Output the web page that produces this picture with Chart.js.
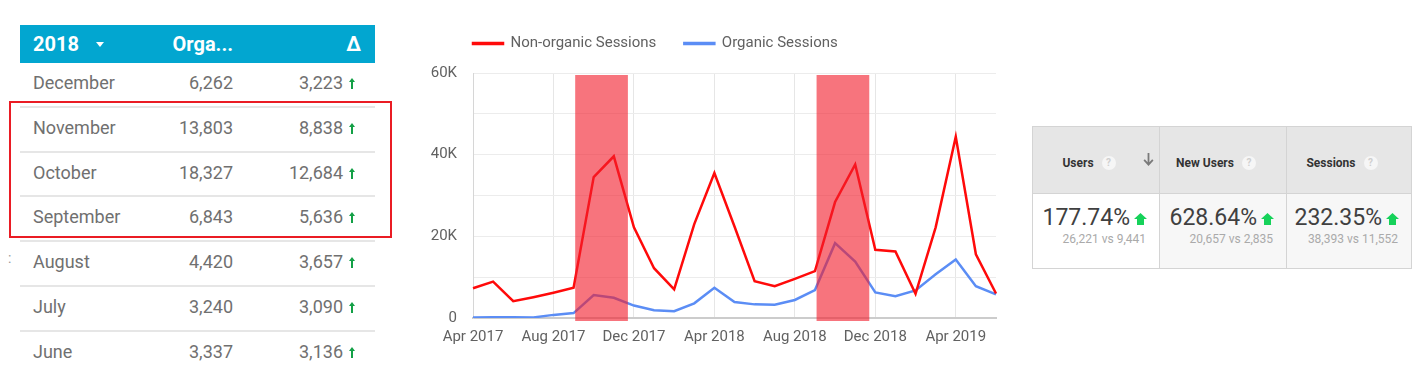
<!DOCTYPE html>
<html>
<head>
<meta charset="utf-8">
<script src="https://cdn.jsdelivr.net/npm/chart.js@4.4.1/dist/chart.umd.min.js"></script>
<style>
  html, body { margin: 0; padding: 0; background: #fff; }
  body { width: 1422px; height: 375px; position: relative; overflow: hidden; font-family: Roboto, "Noto Sans", sans-serif; }
  .abs { position: absolute; }

  /* month table */
  #tableHead { left: 20px; top: 25px; width: 355px; height: 38px; background: #02a6d0; color: #fff; font-weight: bold; font-size: 20px; line-height: 38px; }
  #tableHead .caret { position: absolute; left: 76px; top: 17px; width: 0; height: 0; border-left: 4px solid transparent; border-right: 4px solid transparent; border-top: 5px solid #fff; }
  .row { position: absolute; left: 20px; width: 355px; height: 44.8px; box-sizing: border-box; color: #707070; font-size: 18px; line-height: 40px; }
  .row.sep { border-bottom: 2px solid #e6e6e6; }
  .row span { position: absolute; top: 0; }
  .row svg { position: absolute; left: 329px; top: 15px; }
  #redBox { left: 9px; top: 101px; width: 379px; height: 133px; border: 2px solid #ea1c24; }
  #dots { left: 8px; top: 250px; color: #999; font-size: 14px; }

  /* chart */
  #chartBox { left: 420px; top: 0; width: 586px; height: 356px; }

  /* scorecard */
  #card { left: 1032px; top: 126px; width: 380px; height: 143px; }
  .cell { position: absolute; box-sizing: border-box; border: 1px solid #d4d4d4; }
  .cell.head { background: #e6e6e6; height: 68px; top: 0; }
  .cell.body { height: 76px; top: 67px; }
  .headTxt { position: absolute; left: 0; right: 14px; top: 26px; height: 20px; display: flex; justify-content: center; align-items: center; font-size: 12px; font-weight: bold; color: #333; }
  .qm { display: inline-block; width: 14px; height: 14px; border-radius: 7px; background: #f6f6f6; color: #cfcfcf; font-size: 10px; line-height: 14px; text-align: center; margin-left: 8px; font-weight: bold; }
  .val { position: absolute; right: 12px; top: 10px; line-height: 28px; font-size: 23px; color: #404040; white-space: nowrap; }
  .val svg { margin-left: 4px; }
  .sub { position: absolute; right: 13px; top: 37px; line-height: 16px; font-size: 12px; color: #aaa; white-space: nowrap; }
</style>
</head>
<body>

<div id="tableHead" class="abs">
  <span class="abs" style="left:13px">2018</span>
  <div class="caret"></div>
  <span class="abs" style="right:142px">Orga...</span>
  <span class="abs" style="right:14px">Δ</span>
</div>
<div id="rows"></div>
<div id="redBox" class="abs"></div>
<div id="dots" class="abs">:</div>

<div id="chartBox" class="abs"><canvas id="sessionsChart"></canvas></div>

<div id="card" class="abs"></div>

<script>
// ---- table data (2018, organic sessions and change vs 2017)
const tableMonths = ['December', 'November', 'October', 'September', 'August', 'July', 'June'];
const tableOrganic = [6262, 13803, 18327, 6843, 4420, 3240, 3337];
const tableDelta = [3223, 8838, 12684, 5636, 3657, 3090, 3136];

// ---- line chart data (Apr 2017 - Jun 2019)
const monthLabels = [
    'Apr 2017', 'May 2017', 'Jun 2017', 'Jul 2017', 'Aug 2017', 'Sep 2017', 'Oct 2017', 'Nov 2017', 'Dec 2017',
    'Jan 2018', 'Feb 2018', 'Mar 2018', 'Apr 2018', 'May 2018', 'Jun 2018', 'Jul 2018', 'Aug 2018', 'Sep 2018',
    'Oct 2018', 'Nov 2018', 'Dec 2018', 'Jan 2019', 'Feb 2019', 'Mar 2019', 'Apr 2019', 'May 2019', 'Jun 2019'
];
const nonOrganicSessions = [
    7300, 8900, 4100, 5100, 6200, 7400, 34500, 39600, 22200,
    12200, 7000, 23000, 35500, 22400, 9000, 7800, 9600, 11500,
    28400, 37600, 16700, 16300, 5900, 22200, 44400, 15600, 6000
];
const organicSessions = [
    120, 180, 201, 150, 763, 1207, 5643, 4965, 3039,
    1900, 1650, 3600, 7400, 3900, 3337, 3240, 4420, 6843,
    18327, 13803, 6262, 5350, 6750, 10700, 14300, 7800, 5800
];
const xTickLabels = ['Apr 2017', 'Aug 2017', 'Dec 2017', 'Apr 2018', 'Aug 2018', 'Dec 2018', 'Apr 2019'];
const yTickLabels = ['0', '20K', '40K', '60K'];
const highlightMonths = [['Sep 2017', 'Nov 2017'], ['Sep 2018', 'Nov 2018']];

// ---- scorecard data
const cardMetrics = ['Users', 'New Users', 'Sessions'];
const cardCurrent = [26221, 20657, 38393];
const cardPrevious = [9441, 2835, 11552];

const fmt = n => n.toLocaleString('en-US');
const smallUp = '<svg width="6" height="11" viewBox="0 0 6 11"><path d="M3 0 L6 4 L4 4 L4 11 L2 11 L2 4 L0 4 Z" fill="#13a046"/></svg>';
const bigUp = '<svg width="13" height="12" viewBox="0 0 13 12"><path d="M6.5 0 L13 6 L10 6 L10 12 L3 12 L3 6 L0 6 Z" fill="#16d25a"/></svg>';

// table rows
const rowsEl = document.getElementById('rows');
tableMonths.forEach((m, i) => {
    const row = document.createElement('div');
    row.className = 'row' + (i < tableMonths.length - 1 ? ' sep' : '');
    row.style.top = (63 + 44.8 * i) + 'px';
    row.innerHTML = `<span style="left:13px">${m}</span>` +
        `<span style="right:142px">${fmt(tableOrganic[i])}</span>` +
        `<span style="right:32px">${fmt(tableDelta[i])}</span>` + smallUp;
    rowsEl.appendChild(row);
});

// scorecard
const card = document.getElementById('card');
const colLeft = [0, 127, 254];
const colWidth = [128, 128, 126];
cardMetrics.forEach((name, i) => {
    const head = document.createElement('div');
    head.className = 'cell head';
    head.style.left = colLeft[i] + 'px';
    head.style.width = colWidth[i] + 'px';
    head.innerHTML = `<div class="headTxt">${name}<span class="qm">?</span></div>`;
    if (i === 0) {
        head.innerHTML += '<svg style="position:absolute;right:5px;top:26px" width="11" height="13" viewBox="0 0 11 13"><path d="M5.5 13 L0.5 7.5 L1.8 6.2 L4.6 9.2 L4.6 0 L6.4 0 L6.4 9.2 L9.2 6.2 L10.5 7.5 Z" fill="#7a7a7a"/></svg>';
    }
    card.appendChild(head);

    const pct = ((cardCurrent[i] - cardPrevious[i]) / cardPrevious[i] * 100).toFixed(2) + '%';
    const body = document.createElement('div');
    body.className = 'cell body';
    body.style.left = colLeft[i] + 'px';
    body.style.width = colWidth[i] + 'px';
    body.style.background = i === 0 ? '#ffffff' : '#f7f7f7';
    body.innerHTML = `<div class="val">${pct}${bigUp}</div>` +
        `<div class="sub">${fmt(cardCurrent[i])} vs ${fmt(cardPrevious[i])}</div>`;
    card.appendChild(body);
});

// extra room between legend and plot, legend lined up with the plot's left edge
const legendGap = {
    id: 'legendGap',
    beforeInit(chart) {
        const fit = chart.legend.fit;
        chart.legend.fit = function () {
            fit.call(this);
            this.height += 12;
        };
    },
    afterLayout(chart) {
        chart.legend.left = chart.chartArea.left - chart.legend.options.labels.padding;
    }
};

// red highlight bands over Sep-Nov
const bandPlugin = {
    id: 'bands',
    afterDatasetsDraw(chart) {
        const { ctx, chartArea, scales: { x } } = chart;
        ctx.save();
        ctx.fillStyle = 'rgba(242, 30, 45, 0.62)';
        highlightMonths.forEach(([from, to]) => {
            const x0 = x.getPixelForValue(monthLabels.indexOf(from) + 0.08);
            const x1 = x.getPixelForValue(monthLabels.indexOf(to) + 0.7);
            ctx.fillRect(x0, chartArea.top + 2, x1 - x0, chartArea.bottom - chartArea.top + 1);
        });
        ctx.restore();
    }
};

Chart.defaults.font.family = 'Roboto';
Chart.defaults.font.size = 15;
Chart.defaults.color = '#616161';

const ctx = document.getElementById('sessionsChart').getContext('2d');
new Chart(ctx, {
    type: 'line',
    data: {
        labels: monthLabels,
        datasets: [{
            label: 'Non-organic Sessions',
            data: nonOrganicSessions,
            borderColor: '#ff0a0a',
            backgroundColor: '#ff0a0a',
            borderWidth: 2.5,
            pointRadius: 0,
            tension: 0
        }, {
            label: 'Organic Sessions',
            data: organicSessions,
            borderColor: '#5b8df5',
            backgroundColor: '#5b8df5',
            borderWidth: 2.5,
            pointRadius: 0,
            tension: 0
        }]
    },
    options: {
        responsive: true,
        maintainAspectRatio: false,
        animation: false,
        layout: { padding: { top: 8, left: 0, right: 0, bottom: 0 } },
        plugins: {
            legend: {
                position: 'top',
                align: 'start',
                labels: { boxWidth: 30, boxHeight: 1, padding: 28, color: '#616161' }
            },
            tooltip: { enabled: false }
        },
        scales: {
            x: {
                grid: {
                    drawTicks: false,
                    color: c => xTickLabels.includes(monthLabels[c.index]) ? '#e6e6e6' : 'rgba(0,0,0,0)'
                },
                border: { color: '#cccccc', width: 2 },
                ticks: {
                    autoSkip: false,
                    maxRotation: 0,
                    padding: 10,
                    callback: (v, i) => xTickLabels.includes(monthLabels[i]) ? monthLabels[i] : ''
                }
            },
            y: {
                min: 0,
                max: 60000,
                afterFit: scale => { scale.width = 53; },
                grid: { drawTicks: false, color: '#ececec' },
                border: { color: '#d6d6d6', width: 1 },
                ticks: {
                    stepSize: 10000,
                    padding: 16,
                    callback: v => v % 20000 === 0 ? yTickLabels[v / 20000] : ''
                }
            }
        }
    },
    plugins: [legendGap, bandPlugin]
});
</script>
</body>
</html>
